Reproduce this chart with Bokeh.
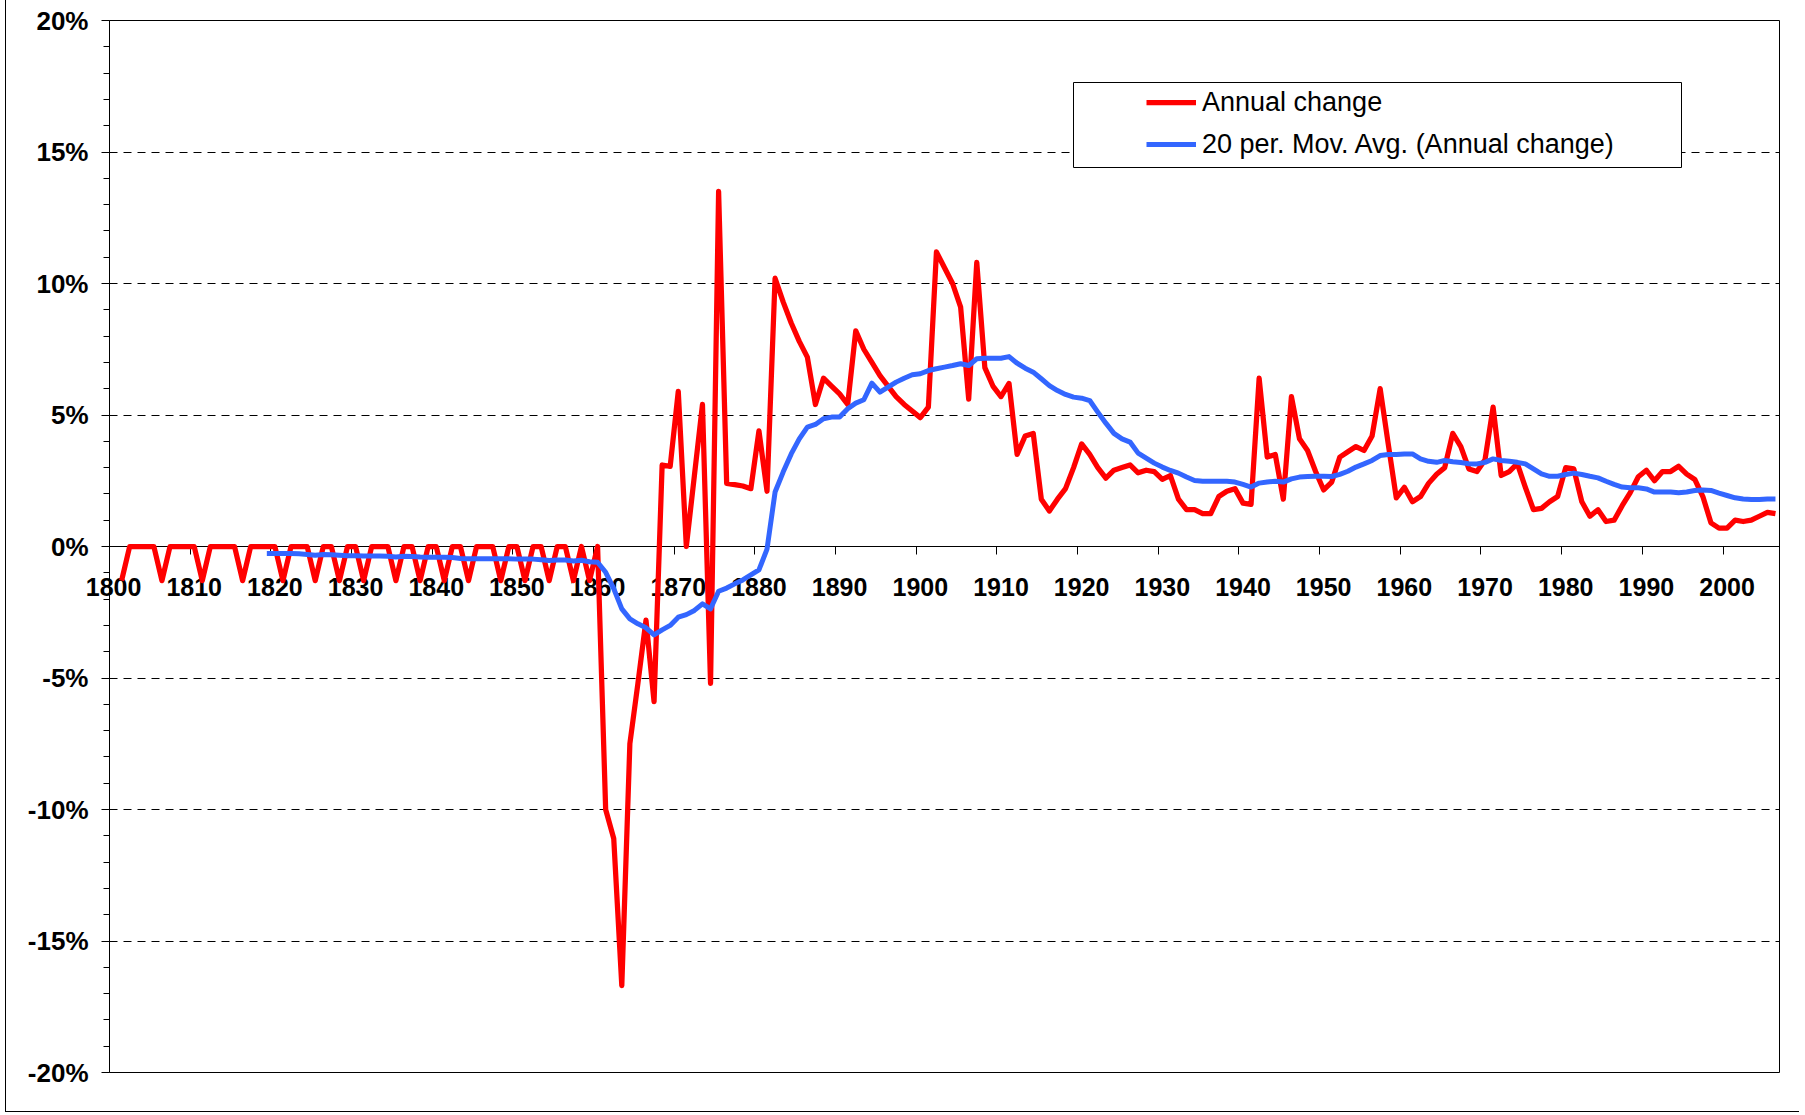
from bokeh.plotting import figure
from bokeh.models import (FixedTicker, LinearAxis, Range1d, Legend, LegendItem,
                          BoxAnnotation, ColumnDataSource, Label)
from bokeh.embed import file_html
from bokeh.resources import INLINE

# ---------------- data ----------------
red_years = list(range(1801, 2007))
annual_change = [
    -1.3, 0, 0, 0, 0, -1.3, 0, 0, 0, 0,            # 1801-1810
    -1.3, 0, 0, 0, 0, -1.3, 0, 0, 0, 0,            # 1811-1820
    -1.3, 0, 0, 0, -1.3, 0, 0, -1.3, 0, 0,         # 1821-1830
    -1.3, 0, 0, 0, -1.3, 0, 0, -1.3, 0, 0,         # 1831-1840
    -1.3, 0, 0, -1.3, 0, 0, 0, -1.3, 0, 0,         # 1841-1850
    -1.3, 0, 0, -1.3, 0, 0, -1.3, 0, -1.3, 0,      # 1851-1860
    -10.0, -11.1, -16.7, -7.5, -5.2, -2.8, -5.9, 3.1, 3.05, 5.9,   # 1861-1870
    0.0, 2.7, 5.4, -5.2, 13.5, 2.4, 2.35, 2.3, 2.2, 4.4,          # 1871-1880
    2.1, 10.2, 9.3, 8.5, 7.8, 7.2, 5.4, 6.4, 6.1, 5.8,            # 1881-1890
    5.4, 8.2, 7.5, 7.0, 6.5, 6.1, 5.7, 5.4, 5.15, 4.9,            # 1891-1900
    5.3, 11.2, 10.6, 10.0, 9.1, 5.6, 10.8, 6.8, 6.1, 5.7,         # 1901-1910
    6.2, 3.5, 4.2, 4.3, 1.8, 1.35, 1.8, 2.2, 3.0, 3.9,            # 1911-1920
    3.5, 3.0, 2.6, 2.9, 3.0, 3.1, 2.8, 2.9, 2.85, 2.55,           # 1921-1930
    2.7, 1.8, 1.4, 1.4, 1.25, 1.25, 1.9, 2.1, 2.2, 1.65,          # 1931-1940
    1.6, 6.4, 3.4, 3.5, 1.8, 5.7, 4.1, 3.65, 2.85, 2.15,          # 1941-1950
    2.45, 3.4, 3.6, 3.8, 3.65, 4.2, 6.0, 3.9, 1.85, 2.25,         # 1951-1960
    1.7, 1.9, 2.4, 2.75, 3.0, 4.3, 3.8, 2.95, 2.85, 3.3,          # 1961-1970
    5.3, 2.7, 2.85, 3.15, 2.25, 1.4, 1.45, 1.7, 1.9, 3.0,         # 1971-1980
    2.95, 1.7, 1.15, 1.4, 0.95, 1.0, 1.55, 2.05, 2.65, 2.9,       # 1981-1990
    2.5, 2.85, 2.85, 3.05, 2.75, 2.55, 1.9, 0.9, 0.7, 0.7,        # 1991-2000
    1.0, 0.95, 1.0, 1.15, 1.3, 1.25,                              # 2001-2006
]

avg_years = list(range(1819, 2007))
moving_avg = [
    -0.27,                                                         # 1819
    -0.27, -0.27, -0.27, -0.28, -0.30, -0.33, -0.30, -0.31, -0.33, -0.35,  # 1820-1829
    -0.35, -0.36, -0.36, -0.36, -0.37, -0.40, -0.37, -0.38, -0.40, -0.41,  # 1830-1839
    -0.41, -0.41, -0.42, -0.46, -0.47, -0.47, -0.47, -0.47, -0.47, -0.47,  # 1840-1849
    -0.48, -0.48, -0.48, -0.50, -0.53, -0.51, -0.51, -0.55, -0.52, -0.58,  # 1850-1859
    -0.60, -0.98, -1.60, -2.37, -2.75, -2.94, -3.09, -3.36, -3.17, -3.00,  # 1860-1869
    -2.69, -2.59, -2.43, -2.18, -2.37, -1.70, -1.58, -1.42, -1.27, -1.08,  # 1870-1879
    -0.89, -0.10, 2.07, 2.83, 3.52, 4.09, 4.54, 4.64, 4.86, 4.92,          # 1880-1889
    4.92, 5.24, 5.45, 5.58, 6.21, 5.87, 6.06, 6.25, 6.40, 6.53,            # 1890-1899
    6.57, 6.69, 6.76, 6.82, 6.88, 6.95, 6.88, 7.14, 7.16, 7.16,            # 1900-1909
    7.16, 7.22, 6.97, 6.78, 6.63, 6.38, 6.12, 5.93, 5.78, 5.68,            # 1910-1919
    5.64, 5.55, 5.11, 4.69, 4.30, 4.09, 3.97, 3.55, 3.36, 3.17,            # 1920-1929
    3.02, 2.89, 2.79, 2.64, 2.51, 2.48, 2.48, 2.48, 2.48, 2.45,            # 1930-1939
    2.36, 2.26, 2.41, 2.45, 2.48, 2.45, 2.57, 2.64, 2.66, 2.67,            # 1940-1949
    2.67, 2.66, 2.74, 2.86, 3.02, 3.14, 3.27, 3.46, 3.50, 3.50,            # 1950-1959
    3.52, 3.52, 3.33, 3.24, 3.20, 3.27, 3.22, 3.19, 3.15, 3.14,            # 1960-1969
    3.20, 3.33, 3.27, 3.24, 3.20, 3.14, 2.95, 2.76, 2.67, 2.67,            # 1970-1979
    2.74, 2.79, 2.74, 2.67, 2.61, 2.48, 2.36, 2.26, 2.23, 2.23,            # 1980-1989
    2.19, 2.07, 2.07, 2.07, 2.04, 2.07, 2.13, 2.15, 2.13, 2.03,            # 1990-1999
    1.94, 1.85, 1.81, 1.79, 1.79, 1.81, 1.81,                              # 2000-2006
]

x_label_years = [1800, 1810, 1820, 1830, 1840, 1850, 1860, 1870, 1880, 1890, 1900,
                 1910, 1920, 1930, 1940, 1950, 1960, 1970, 1980, 1990, 2000]
y_tick_values = [-20, -15, -10, -5, 0, 5, 10, 15, 20]
y_tick_labels = ["-20%", "-15%", "-10%", "-5%", "0%", "5%", "10%", "15%", "20%"]
first_category, last_category = 1800, 2006
x_axis_value = 0

# ---------------- layout (pixels) ----------------
axis_left_px = 103     # room left of the plot area (for tick labels)
plot_w_px = 1670       # plot area width
plot_h_px = 1052       # plot area height
top_px, right_px, bottom_px = 20, 21, 40

x_lo, x_hi = first_category - 0.5, last_category + 0.5
y_lo, y_hi = min(y_tick_values), max(y_tick_values)
ppx = plot_w_px / (x_hi - x_lo)
ppy = plot_h_px / (y_hi - y_lo)

p = figure(width=axis_left_px + plot_w_px + right_px,
           height=top_px + plot_h_px + bottom_px,
           output_backend="svg", toolbar_location=None,
           x_range=Range1d(x_lo - axis_left_px / ppx, x_hi + right_px / ppx),
           y_range=Range1d(y_lo - bottom_px / ppy, y_hi + top_px / ppy),
           x_axis_location=None, y_axis_location=None,
           min_border_left=0, min_border_right=0, min_border_top=0, min_border_bottom=0,
           background_fill_color="white", border_fill_color="white")
p.outline_line_color = None
p.xgrid.visible = False
p.ygrid.visible = False
p.styles = {"margin-left": "5px", "border-left": "1px solid black",
            "border-bottom": "1px solid black"}

# dashed horizontal gridlines, only across the plot area
for gv in y_tick_values:
    if gv in (0, y_lo, y_hi):
        continue
    g = LinearAxis(ticker=FixedTicker(ticks=[], minor_ticks=[]), fixed_location=gv,
                   bounds=(x_lo, x_hi), axis_line_color="black", axis_line_width=1,
                   axis_line_dash="8 6", major_tick_out=0, minor_tick_out=0,
                   major_tick_in=0, minor_tick_in=0)
    g.level = "underlay"
    p.add_layout(g, "below")

# plot-area border (top, bottom, right)
for loc, side in ((y_hi, "above"), (y_lo, "below")):
    b = LinearAxis(ticker=FixedTicker(ticks=[], minor_ticks=[]), fixed_location=loc,
                   bounds=(x_lo, x_hi), axis_line_color="black", axis_line_width=1,
                   major_tick_out=0, minor_tick_out=0, major_tick_in=0, minor_tick_in=0)
    p.add_layout(b, side)
rb = LinearAxis(ticker=FixedTicker(ticks=[], minor_ticks=[]), fixed_location=x_hi,
                bounds=(y_lo, y_hi), axis_line_color="black", axis_line_width=1,
                major_tick_out=0, minor_tick_out=0, major_tick_in=0, minor_tick_in=0)
p.add_layout(rb, "right")

# y axis (value axis) at the left edge of the plot area
yax = LinearAxis(ticker=FixedTicker(ticks=y_tick_values,
                                    minor_ticks=list(range(y_lo, y_hi + 1))),
                 fixed_location=x_lo, bounds=(y_lo, y_hi),
                 major_label_overrides={v: s for v, s in zip(y_tick_values, y_tick_labels)},
                 major_label_text_font="Liberation Sans",
                 major_label_text_font_style="bold",
                 major_label_text_font_size="26px",
                 major_label_text_color="black",
                 major_tick_out=8, major_tick_in=0, minor_tick_out=6, minor_tick_in=0,
                 major_label_standoff=13, axis_line_color="black",
                 major_tick_line_color="black", minor_tick_line_color="black")
p.add_layout(yax, "left")

# category axis drawn at 0 %: tick marks at category boundaries
tick_positions = [y - 0.5 for y in x_label_years]
xax = LinearAxis(ticker=FixedTicker(ticks=[], minor_ticks=tick_positions),
                 fixed_location=x_axis_value, bounds=(x_lo, x_hi),
                 major_tick_out=0, major_tick_in=0, minor_tick_out=8, minor_tick_in=0,
                 axis_line_color="black", minor_tick_line_color="black")
xax.level = "underlay"
p.add_layout(xax, "below")

# category labels under the 0 % axis
for yr in x_label_years:
    p.add_layout(Label(x=yr, y=x_axis_value, text=str(yr),
                       x_units="data", y_units="data",
                       y_offset=-31, text_align="center", text_baseline="top",
                       text_font="Liberation Sans", text_font_style="bold",
                       text_font_size="25px", text_color="black", level="underlay"))

# series
src_red = ColumnDataSource(dict(x=red_years, y=annual_change))
src_blue = ColumnDataSource(dict(x=avg_years, y=moving_avg))
r_red = p.line("x", "y", source=src_red, line_color="#FF0000", line_width=5.25,
               line_join="round")
r_blue = p.line("x", "y", source=src_blue, line_color="#3366FF", line_width=5,
                line_join="round")

# legend box + legend (screen offsets from the frame's bottom-left)
box = BoxAnnotation(left=1067, right=1675, bottom=945, top=1030,
                    left_units="screen", right_units="screen",
                    bottom_units="screen", top_units="screen",
                    fill_color="white", fill_alpha=1.0,
                    line_color="black", line_width=1, line_alpha=1.0)
p.add_layout(box)
legend = Legend(items=[LegendItem(label="Annual change", renderers=[r_red]),
                       LegendItem(label="20 per. Mov. Avg. (Annual change)", renderers=[r_blue])],
                location=(1140, 947), orientation="vertical",
                border_line_color=None, background_fill_alpha=0,
                padding=0, margin=0, spacing=0,
                glyph_width=50, glyph_height=42, label_height=42, label_standoff=6,
                label_text_font="Liberation Sans", label_text_font_size="27px",
                label_text_color="black")
p.add_layout(legend)

open("out.html", "w").write(file_html(p, INLINE))
